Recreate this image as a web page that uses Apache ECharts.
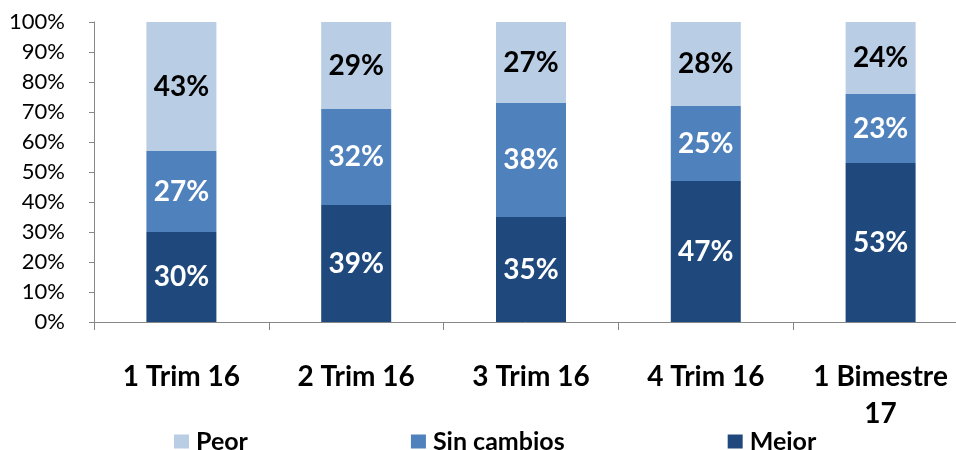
<!DOCTYPE html>
<html>
<head>
<meta charset="utf-8">
<script src="https://cdn.jsdelivr.net/npm/echarts@6/dist/echarts.min.js"></script>
<style>
  html, body { margin: 0; padding: 0; background: #fff; }
  #chart { width: 956px; height: 450px; }
</style>
</head>
<body>
<div id="chart"></div>
<script>
// datos
var categorias = ["1 Trim 16", "2 Trim 16", "3 Trim 16", "4 Trim 16", "1 Bimestre\n17"];
var mejor = [30, 39, 35, 47, 53];
var sinCambios = [27, 32, 38, 25, 23];
var peor = [43, 29, 27, 28, 24];
var ticksY = [0, 10, 20, 30, 40, 50, 60, 70, 80, 90, 100];

var fuente = "Lato";
var chart = echarts.init(document.getElementById("chart"));

function etiqueta(color) {
  return {
    show: true,
    position: "inside",
    formatter: "{c}%",
    color: color,
    fontFamily: fuente,
    fontWeight: "bold",
    fontSize: 28
  };
}

var option = {
  animation: false,
  textStyle: { fontFamily: fuente },
  grid: { left: 94, top: 22, width: 874, height: 300, outerBoundsMode: "none", containLabel: false },
  legend: {
    data: ["Peor", "Sin cambios", "Mejor"],
    left: 174,
    top: 429,
    padding: 0,
    itemWidth: 15,
    itemHeight: 14,
    itemGap: 163,
    icon: "rect",
    textStyle: { fontFamily: fuente, fontWeight: "bold", fontSize: 25, color: "#000", padding: [0, 0, 0, 2] }
  },
  xAxis: {
    type: "category",
    data: categorias,
    axisLine: { lineStyle: { color: "#868686" } },
    axisTick: { show: true, length: 8, lineStyle: { color: "#868686" } },
    axisLabel: {
      color: "#000",
      fontFamily: fuente,
      fontWeight: "bold",
      fontSize: 28,
      margin: 36,
      lineHeight: 37
    }
  },
  yAxis: {
    type: "value",
    min: ticksY[0],
    max: ticksY[ticksY.length - 1],
    interval: 10,
    axisLine: { show: true, lineStyle: { color: "#868686" } },
    axisTick: { show: true, length: 5, lineStyle: { color: "#868686" } },
    splitLine: { show: false },
    axisLabel: {
      formatter: "{value}%",
      color: "#000",
      fontFamily: fuente,
      fontSize: 22,
      margin: 29
    }
  },
  series: [
    {
      name: "Mejor",
      type: "bar",
      stack: "total",
      barWidth: 70,
      data: mejor,
      itemStyle: { color: "#1F497D" },
      label: etiqueta("#fff")
    },
    {
      name: "Sin cambios",
      type: "bar",
      stack: "total",
      barWidth: 70,
      data: sinCambios,
      itemStyle: { color: "#4F81BD" },
      label: etiqueta("#fff")
    },
    {
      name: "Peor",
      type: "bar",
      stack: "total",
      barWidth: 70,
      data: peor,
      itemStyle: { color: "#B9CDE5" },
      label: etiqueta("#000")
    }
  ]
};

chart.setOption(option);
</script>
</body>
</html>
